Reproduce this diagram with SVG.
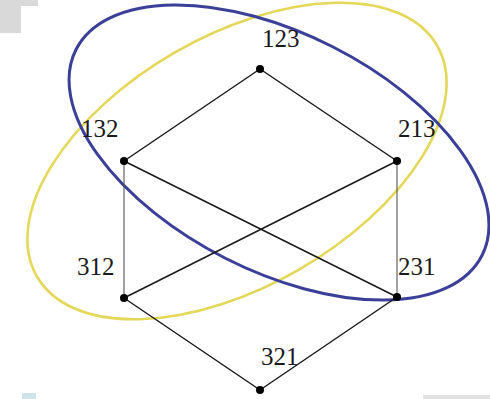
<svg xmlns="http://www.w3.org/2000/svg" width="490" height="399" viewBox="0 0 490 399">
<style>
.bg{fill:#ffffff}
.edge{stroke:#1a1a1a;stroke-width:1.5;fill:none}
.vert{stroke:#555555;stroke-width:1.1;fill:none}
.dot{fill:#000000}
.lbl{font-family:"Liberation Serif","DejaVu Serif",serif;font-size:25px;fill:#1a1a1a}
.yel{fill:none;stroke:#e3d85a;stroke-width:2.6}
.blu{fill:none;stroke:#3b3f98;stroke-width:3}
</style>
<rect class="bg" x="0" y="0" width="490" height="399"/>
<g id="artifacts">
<path d="M0 0 H38 V6 H21 V33 H0 Z" fill="#d9d9d9"/>
<rect x="423" y="395" width="67" height="4" fill="#e2e2e2"/>
<rect x="22" y="393" width="14" height="6" fill="#cfe3ea"/>
</g>
<g id="sets">
<ellipse id="yellow-set" class="yel" cx="237" cy="161" rx="231" ry="125" transform="rotate(-30 237 161)"/>
<ellipse id="blue-set" class="blu" cx="279" cy="152.5" rx="227.6" ry="118.6" transform="rotate(26.9 279 152.5)"/>
</g>
<g id="connectors">
<line class="edge" x1="260" y1="69" x2="124" y2="161"/>
<line class="edge" x1="260" y1="69" x2="397" y2="161"/>
<line class="vert" x1="124" y1="161" x2="124" y2="298"/>
<line class="edge" x1="124" y1="161" x2="397" y2="297"/>
<line class="edge" x1="397" y1="161" x2="124" y2="298"/>
<line class="vert" x1="397" y1="161" x2="397" y2="297"/>
<line class="edge" x1="124" y1="298" x2="260" y2="390"/>
<line class="edge" x1="397" y1="297" x2="260" y2="390"/>
</g>
<g id="n123"><circle class="dot" cx="260" cy="69" r="4"/><text class="lbl" x="262" y="47">123</text></g>
<g id="n132"><circle class="dot" cx="124" cy="161" r="4"/><text class="lbl" x="81" y="137">132</text></g>
<g id="n213"><circle class="dot" cx="397" cy="161" r="4"/><text class="lbl" x="398" y="137">213</text></g>
<g id="n312"><circle class="dot" cx="124" cy="298" r="4"/><text class="lbl" x="77" y="275">312</text></g>
<g id="n231"><circle class="dot" cx="397" cy="297" r="4"/><text class="lbl" x="398" y="275">231</text></g>
<g id="n321"><circle class="dot" cx="260" cy="390" r="4"/><text class="lbl" x="261" y="365">321</text></g>
</svg>
